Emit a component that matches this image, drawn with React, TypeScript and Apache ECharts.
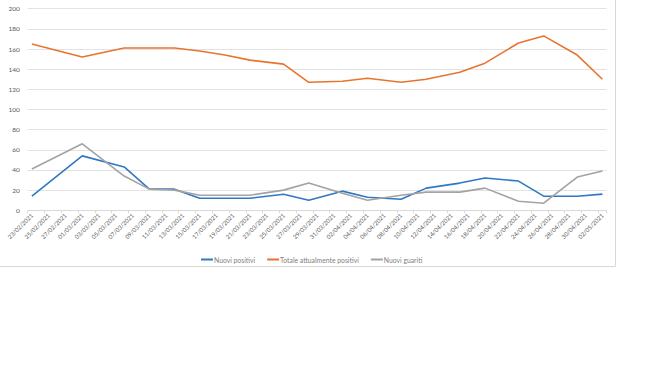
import React, { useEffect, useRef } from "react";
import * as echarts from "echarts";

const startDate = "2021-02-23";
const endDate = "2021-05-02";
const reportDates = [
  "23/02/2021", "01/03/2021", "06/03/2021", "09/03/2021", "12/03/2021",
  "15/03/2021", "18/03/2021", "21/03/2021", "25/03/2021", "28/03/2021",
  "01/04/2021", "04/04/2021", "08/04/2021", "11/04/2021", "15/04/2021",
  "18/04/2021", "22/04/2021", "25/04/2021", "29/04/2021", "02/05/2021",
];
const nuoviPositivi = [14, 54, 43, 21, 21, 12, 12, 12, 16, 10, 19, 13, 11, 22, 27, 32, 29, 14, 14, 16];
const totaleAttualmentePositivi = [165, 152, 161, 161, 161, 158, 154, 149, 145, 127, 128, 131, 127, 130, 137, 146, 166, 173, 154, 130];
const nuoviGuariti = [41, 66, 34, 21, 20, 15, 15, 15, 20, 27, 17, 10, 15, 18, 18, 22, 9, 7, 33, 39];
const seriesNames = ["Nuovi positivi", "Totale attualmente positivi", "Nuovi guariti"];
const yTicks = { min: 0, max: 200, interval: 20 };

function buildDays(): string[] {
  const out: string[] = [];
  const d = new Date(startDate + "T00:00:00Z");
  const end = new Date(endDate + "T00:00:00Z");
  while (d.getTime() <= end.getTime()) {
    const dd = String(d.getUTCDate()).padStart(2, "0");
    const mm = String(d.getUTCMonth() + 1).padStart(2, "0");
    out.push(`${dd}/${mm}/${d.getUTCFullYear()}`);
    d.setUTCDate(d.getUTCDate() + 1);
  }
  return out;
}

export default function App() {
  const ref = useRef<HTMLDivElement>(null);
  useEffect(() => {
    document.body.style.margin = "0";
    if (!ref.current) return;
    const chart = echarts.init(ref.current, undefined, { renderer: "svg" });
    const days = buildDays();
    const pairs = (vals: number[]) => reportDates.map((d, i) => [d, vals[i]]);
    const font = "Lato, 'Open Sans', sans-serif";
    const colors = ["#2F78C4", "#E8742F", "#A3A3A3"];
    const values = [nuoviPositivi, totaleAttualmentePositivi, nuoviGuariti];
    chart.setOption({
      animation: false,
      backgroundColor: "#ffffff",
      color: colors,
      textStyle: { fontFamily: font },
      graphic: [
        {
          type: "polyline",
          shape: { points: [[615.5, 0], [615.5, 266.5], [0, 266.5]] },
          style: { fill: "none", stroke: "#D9D9D9", lineWidth: 1 },
          silent: true,
        },
      ],
      grid: { left: 27.7, right: 43.4, top: 8.7, bottom: 155.7, containLabel: false },
      legend: {
        left: 196,
        top: 251,
        itemWidth: 12,
        itemHeight: 2,
        itemGap: 12,
        icon: "rect",
        textStyle: { fontSize: 6.8, color: "#7F7F7F", fontFamily: font, padding: [0, 0, 0, -4] },
        data: seriesNames,
      },
      xAxis: {
        type: "category",
        data: days,
        boundaryGap: true,
        axisLine: { lineStyle: { color: "#D9D9D9", width: 1 } },
        axisTick: { show: true, interval: 1, length: 3, lineStyle: { color: "#D9D9D9" } },
        axisLabel: {
          interval: 1,
          rotate: 45,
          fontSize: 6,
          color: "#595959",
          margin: 4,
          fontFamily: font,
        },
        splitLine: { show: false },
      },
      yAxis: {
        type: "value",
        min: yTicks.min,
        max: yTicks.max,
        interval: yTicks.interval,
        axisLine: { show: false },
        axisTick: { show: false },
        axisLabel: { fontSize: 6.5, color: "#595959", margin: 8, fontFamily: font },
        splitLine: { lineStyle: { color: "#E3E3E3", width: 1 } },
      },
      series: seriesNames.map((name, i) => ({
        name,
        type: "line",
        data: pairs(values[i]),
        symbol: "none",
        lineStyle: { width: 1.6, color: colors[i] },
        itemStyle: { color: colors[i] },
      })),
    });
    return () => chart.dispose();
  }, []);
  return <div ref={ref} style={{ width: 650, height: 366 }} />;
}
